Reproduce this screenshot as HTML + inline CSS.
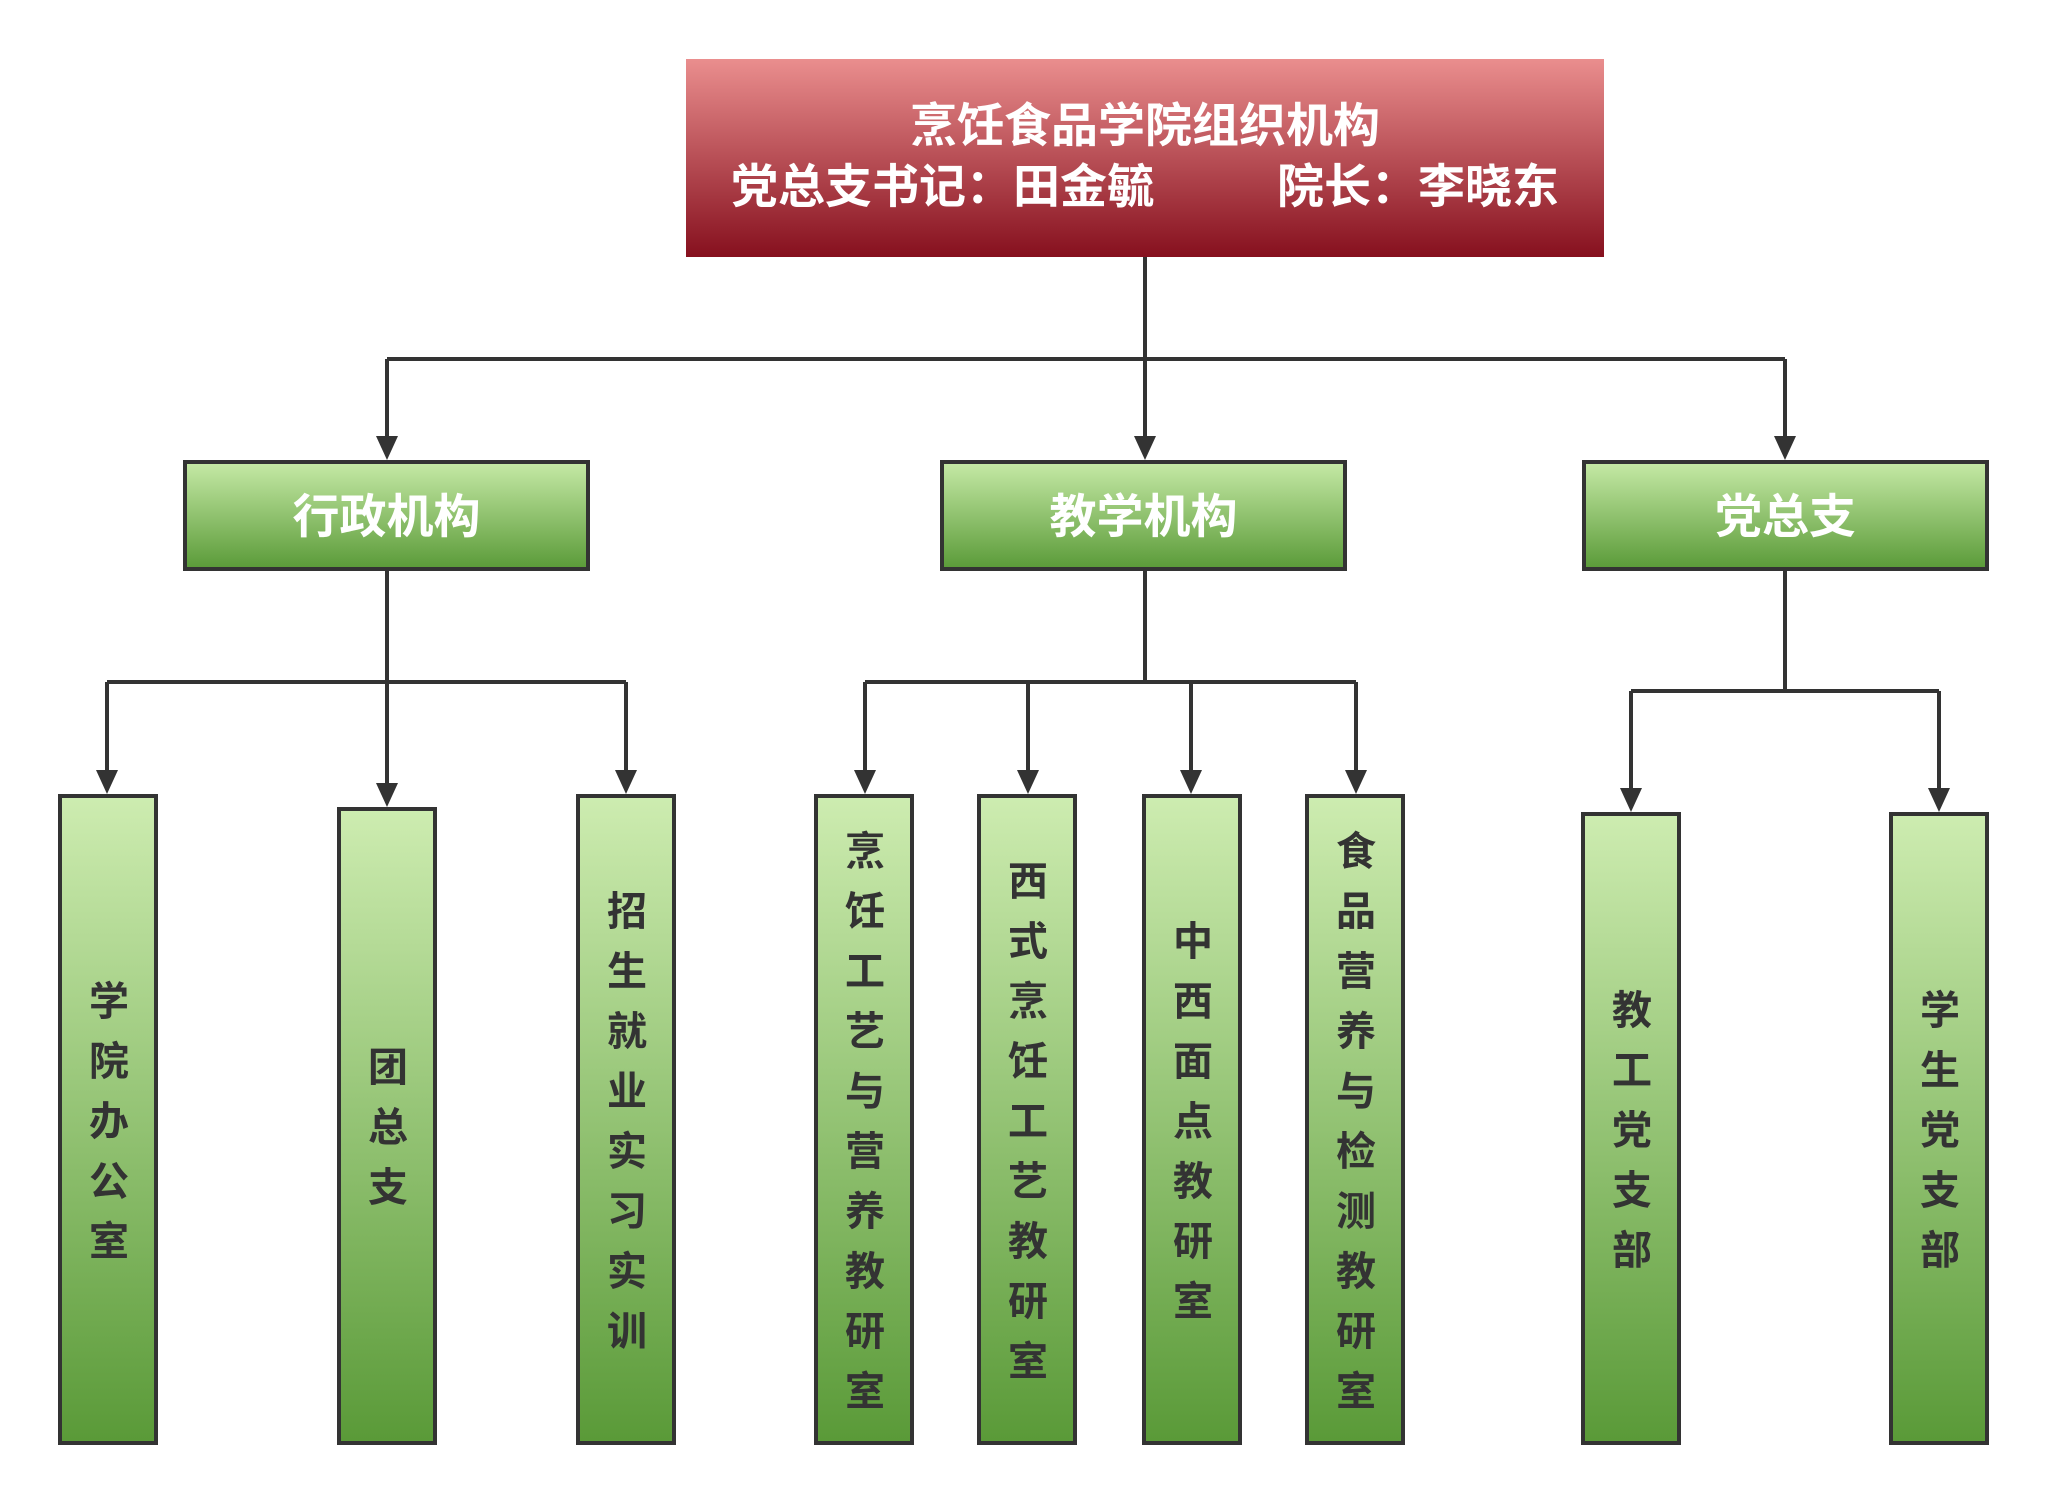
<!DOCTYPE html>
<html><head><meta charset="utf-8"><style>
html,body{margin:0;padding:0;background:#fff;}
body{width:2048px;height:1504px;position:relative;overflow:hidden;font-family:"Liberation Sans","Noto Sans CJK SC",sans-serif;}
.box{position:absolute;box-sizing:border-box;border:4px solid #333;}
.top{left:686px;top:59px;width:918px;height:198px;border:none;background:linear-gradient(#ea8e8e,#86101e);color:#fff;font-weight:bold;font-size:47px;line-height:1;}
.mid{top:460px;height:111px;width:407px;background:linear-gradient(#c4e8a4,#5c9c3a);color:#fff;font-weight:bold;font-size:47px;display:flex;align-items:center;justify-content:center;padding-bottom:6px;}
.leaf{width:100px;background:linear-gradient(#cdecb0,#5a9a38);display:flex;align-items:center;justify-content:center;}
.v{writing-mode:vertical-rl;font-weight:bold;font-size:40px;color:#333;letter-spacing:20px;line-height:1;transform:translateX(-3px);padding-top:20px;}
</style></head><body>
<svg width="2048" height="1504" style="position:absolute;left:0;top:0">
<g stroke="#333" stroke-width="4" fill="none">
<path d="M1145 257V440M387 359H1785M387 359V440M1785 359V440"/>
<path d="M387 571V682M107 682H626M107 682V774M387 682V787M626 682V774"/>
<path d="M1145 571V682M865 682H1356M865 682V774M1028 682V774M1191 682V774M1356 682V774"/>
<path d="M1785 571V691M1631 691H1939M1631 691V792M1939 691V792"/>
</g>
<g fill="#333">
<path d="M376 436h22l-11 24z"/><path d="M1134 436h22l-11 24z"/><path d="M1774 436h22l-11 24z"/>
<path d="M96 770h22l-11 24z"/><path d="M376 783h22l-11 24z"/><path d="M615 770h22l-11 24z"/>
<path d="M854 770h22l-11 24z"/><path d="M1017 770h22l-11 24z"/><path d="M1180 770h22l-11 24z"/><path d="M1345 770h22l-11 24z"/>
<path d="M1620 788h22l-11 24z"/><path d="M1928 788h22l-11 24z"/>
</g>
</svg>
<div class="box top">
<div style="position:absolute;left:0;width:918px;top:43px;text-align:center;">烹饪食品学院组织机构</div>
<div style="position:absolute;left:45px;top:104px;">党总支书记：田金毓</div>
<div style="position:absolute;left:591px;top:104px;">院长：李晓东</div>
</div>
<div class="box mid" style="left:183px">行政机构</div>
<div class="box mid" style="left:940px">教学机构</div>
<div class="box mid" style="left:1582px">党总支</div>
<div class="box leaf" style="left:58px;top:794px;height:651px"><span class="v">学院办公室</span></div>
<div class="box leaf" style="left:337px;top:807px;height:638px"><span class="v">团总支</span></div>
<div class="box leaf" style="left:576px;top:794px;height:651px"><span class="v">招生就业实习实训</span></div>
<div class="box leaf" style="left:814px;top:794px;height:651px"><span class="v">烹饪工艺与营养教研室</span></div>
<div class="box leaf" style="left:977px;top:794px;height:651px"><span class="v">西式烹饪工艺教研室</span></div>
<div class="box leaf" style="left:1142px;top:794px;height:651px"><span class="v">中西面点教研室</span></div>
<div class="box leaf" style="left:1305px;top:794px;height:651px"><span class="v">食品营养与检测教研室</span></div>
<div class="box leaf" style="left:1581px;top:812px;height:633px"><span class="v">教工党支部</span></div>
<div class="box leaf" style="left:1889px;top:812px;height:633px"><span class="v">学生党支部</span></div>
</body></html>
